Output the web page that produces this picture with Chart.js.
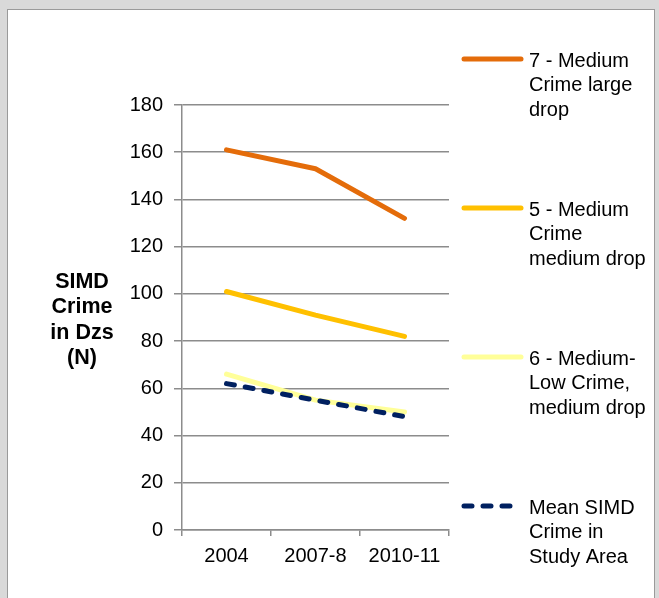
<!DOCTYPE html>
<html>
<head>
<meta charset="utf-8">
<script src="https://cdn.jsdelivr.net/npm/chart.js@4.4.1/dist/chart.umd.min.js"></script>
<style>
    html, body { margin: 0; padding: 0; background: #d9d9d9; width: 659px; height: 598px; overflow: hidden; }
    .panel { position: absolute; left: 7px; top: 9px; width: 646px; height: 620px; background: #fff; border: 1px solid #9a9a9a; }
    #chart { position: absolute; left: 0; top: 0; }
</style>
</head>
<body>
<div class="panel"></div>
<canvas id="chart" width="659" height="598"></canvas>
<script>
const years = ['2004', '2007-8', '2010-11'];
const yTicks = [0, 20, 40, 60, 80, 100, 120, 140, 160, 180];

const mediumLargeDrop = [161, 153, 132];
const mediumMediumDrop = [101, 91, 82];
const mediumLowMediumDrop = [66, 55, 50];
const meanStudyArea = [62, 55, 48];

const seriesLabels = [
    ['7 - Medium', 'Crime large', 'drop'],
    ['5 - Medium', 'Crime', 'medium drop'],
    ['6 - Medium-', 'Low Crime,', 'medium drop'],
    ['Mean SIMD', 'Crime in', 'Study Area']
];
const yTitle = ['SIMD', 'Crime', 'in Dzs', '(N)'];

const FONT = '"Liberation Sans", Arial, sans-serif';

// legend and the axis title, drawn by hand so labels can wrap
const sideTextPlugin = {
    id: 'sideText',
    afterDraw(chart) {
        const ctx = chart.ctx;
        ctx.save();
        ctx.fillStyle = '#000';
        ctx.textBaseline = 'middle';

        ctx.font = 'bold 21.5px ' + FONT;
        ctx.textAlign = 'center';
        yTitle.forEach((line, i) => ctx.fillText(line, 82, 282 + i * 25.5));

        ctx.font = '20px ' + FONT;
        ctx.textAlign = 'left';
        chart.data.datasets.forEach((ds, i) => {
            const y = 59 + i * 149;
            ctx.beginPath();
            ctx.strokeStyle = ds.borderColor;
            ctx.lineWidth = ds.borderWidth;
            ctx.lineCap = 'round';
            ctx.setLineDash(ds.borderDash || []);
            ctx.moveTo(464, y);
            ctx.lineTo(521, y);
            ctx.stroke();
            ctx.setLineDash([]);
            seriesLabels[i].forEach((line, j) => ctx.fillText(line, 529, y + 2 + j * 24.5));
        });
        ctx.restore();
    }
};

new Chart(document.getElementById('chart'), {
    type: 'line',
    data: {
        labels: years,
        datasets: [
            { label: seriesLabels[0].join(' '), data: mediumLargeDrop, borderColor: '#e46c0a', borderWidth: 5, order: 1 },
            { label: seriesLabels[1].join(' '), data: mediumMediumDrop, borderColor: '#ffc000', borderWidth: 5, order: 2 },
            { label: seriesLabels[2].join(' '), data: mediumLowMediumDrop, borderColor: '#ffff99', borderWidth: 5, order: 3 },
            { label: seriesLabels[3].join(' '), data: meanStudyArea, borderColor: '#002060', borderWidth: 5, borderDash: [8, 11], order: 0 }
        ]
    },
    options: {
        responsive: false,
        animation: false,
        layout: { padding: { top: 105, right: 210, bottom: 0, left: 0 } },
        elements: {
            line: { tension: 0, borderCapStyle: 'round', borderJoinStyle: 'round', fill: false },
            point: { radius: 0, hoverRadius: 0 }
        },
        plugins: {
            legend: { display: false },
            tooltip: { enabled: false },
            title: { display: false }
        },
        scales: {
            x: {
                offset: true,
                grid: { offset: true, drawOnChartArea: false, color: '#8c8c8c', lineWidth: 1.5, tickLength: 6 },
                border: { color: '#8c8c8c', width: 1.5 },
                ticks: { color: '#000', font: { family: FONT, size: 20 }, padding: 8, maxRotation: 0 },
                afterFit: s => { s.height = 68; }
            },
            y: {
                min: yTicks[0],
                max: yTicks[yTicks.length - 1],
                afterBuildTicks: s => { s.ticks = yTicks.map(v => ({ value: v })); },
                grid: { color: '#8c8c8c', lineWidth: 1.5, tickLength: 8 },
                border: { color: '#8c8c8c', width: 1.5 },
                ticks: { color: '#000', font: { family: FONT, size: 20 }, padding: 11 },
                afterFit: s => { s.width = 182; }
            }
        }
    },
    plugins: [sideTextPlugin]
});
</script>
</body>
</html>
